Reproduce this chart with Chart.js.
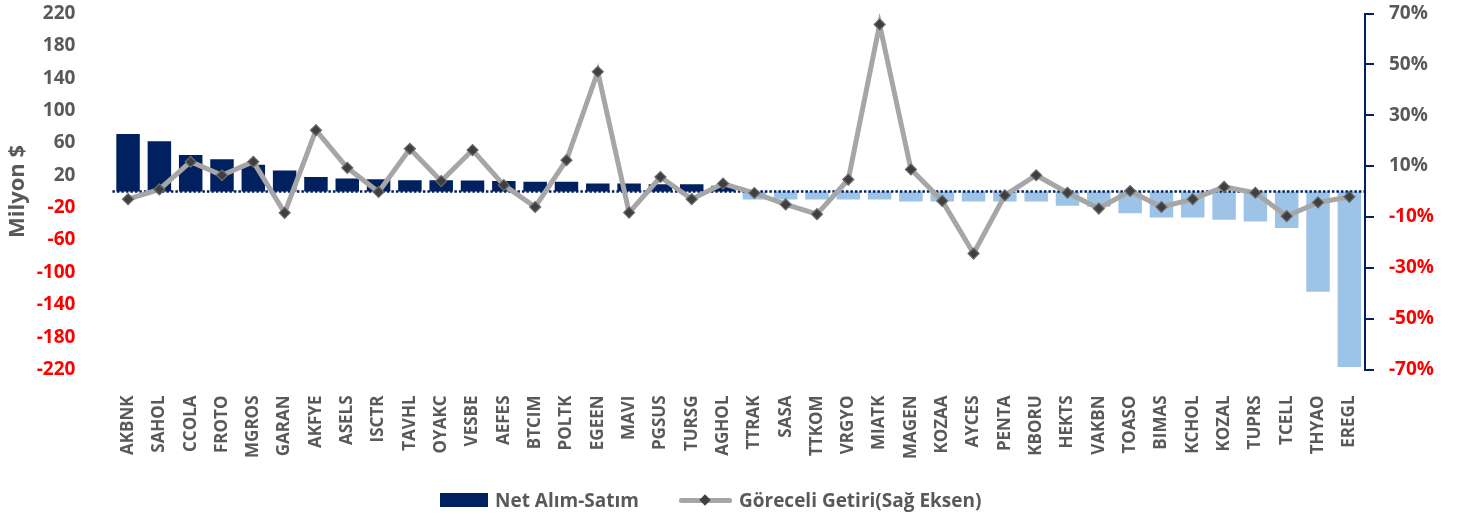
<!DOCTYPE html>
<html lang="tr">
<head>
<meta charset="utf-8">
<title>Net Alım-Satım ve Göreceli Getiri</title>
<script src="https://cdn.jsdelivr.net/npm/chart.js@4.4.1/dist/chart.umd.min.js"></script>
<style>
  body { margin: 0; background: #fff; }
  #wrap { position: relative; width: 1463px; height: 520px; }
  #legend {
    position: absolute; left: 440px; top: 490px;
    display: flex; align-items: center;
    font: bold 19px 'Open Sans', sans-serif; color: #595959;
    line-height: 20px; white-space: nowrap;
  }
  .sw-bar { width: 48px; height: 14px; background: #002060; margin-right: 7px; }
  .sw-line { position: relative; width: 53px; height: 14px; margin-left: 40px; margin-right: 7px; }
  .sw-line .ln { position: absolute; left: 0; right: 0; top: 4.5px; height: 5px; background: #a6a6a6; border-radius: 2px; }
  .sw-line .dm { position: absolute; left: 22px; top: 2.5px; width: 8px; height: 8px; background: #3f3f3f; transform: rotate(45deg); }
</style>
</head>
<body>
<div id="wrap">
  <canvas id="canvas"></canvas>
  <div id="legend">
    <span class="sw-bar"></span><span>Net Alım-Satım</span>
    <span class="sw-line"><span class="ln"></span><span class="dm"></span></span><span>Göreceli Getiri(Sağ Eksen)</span>
  </div>
</div>
<script>
// hisse kodlari
const tickers = ['AKBNK', 'SAHOL', 'CCOLA', 'FROTO', 'MGROS', 'GARAN', 'AKFYE', 'ASELS', 'ISCTR', 'TAVHL',
  'OYAKC', 'VESBE', 'AEFES', 'BTCIM', 'POLTK', 'EGEEN', 'MAVI', 'PGSUS', 'TURSG', 'AGHOL',
  'TTRAK', 'SASA', 'TTKOM', 'VRGYO', 'MIATK', 'MAGEN', 'KOZAA', 'AYCES', 'PENTA', 'KBORU',
  'HEKTS', 'VAKBN', 'TOASO', 'BIMAS', 'KCHOL', 'KOZAL', 'TUPRS', 'TCELL', 'THYAO', 'EREGL'];

// net alim-satim, milyon $
const netFlow = [71, 62, 45, 40, 33, 26, 18, 16, 15, 14,
  14, 13.5, 13, 12, 12, 10, 10, 9, 9, 7,
  -10, -10, -10, -10, -10, -12.5, -12.5, -12.5, -12.5, -12.5,
  -17.5, -19, -27, -32, -32, -35, -37, -45, -124, -217];

// goreceli getiri, %
const relReturn = [-3.0, 0.8, 11.7, 6.4, 11.7, -8.4, 24.1, 9.3, -0.2, 16.8,
  4.1, 16.3, 2.5, -6.1, 12.3, 47.1, -8.3, 5.7, -3.0, 3.1,
  -0.6, -5.1, -8.9, 4.7, 65.7, 8.7, -3.7, -24.4, -1.5, 6.4,
  -0.5, -6.7, 0.2, -6.1, -3.0, 1.8, -0.5, -9.7, -4.3, -2.1];

// eksen sinirlari
const leftAxis = { min: -220, max: 220, step: 40 };
const rightAxis = { min: -70, max: 70, step: 20 };

const NAVY = '#002060';
const LIGHT = '#9dc3e6';
const GRAY = '#595959';
const RED = '#ff0000';

Chart.defaults.font.family = "'Open Sans', sans-serif";
Chart.defaults.font.weight = 'bold';

// sifir cizgisi, barlardan sonra cizilir
const zeroLine = {
  id: 'zeroLine',
  afterDatasetDraw(chart, args) {
    if (args.index !== 0) return;
    const ctx = chart.ctx;
    const area = chart.chartArea;
    const y = chart.scales.y.getPixelForValue(0);
    ctx.save();
    ctx.strokeStyle = NAVY;
    ctx.lineWidth = 2.5;
    ctx.setLineDash([2.5, 2]);
    ctx.beginPath();
    ctx.moveTo(area.left, y);
    ctx.lineTo(area.right, y);
    ctx.stroke();
    ctx.restore();
  }
};

const signColor = (c) => c.tick.value < 0 ? RED : GRAY;

// etiket taşmasi icin eklenen bosluklari kaldir
function fixSize(w, h) {
  return (s) => {
    if (w) s.width = w;
    if (h) s.height = h;
    s.paddingTop = 0;
    s.paddingBottom = 0;
    s.paddingLeft = 0;
    s.paddingRight = 0;
  };
}

const ctx = document.getElementById('canvas').getContext('2d');
window.myChart = new Chart(ctx, {
  type: 'bar',
  data: {
    labels: tickers,
    datasets: [
      {
        label: 'Net Alım-Satım',
        data: netFlow,
        yAxisID: 'y',
        order: 1,
        backgroundColor: (c) => c.raw < 0 ? LIGHT : NAVY,
        categoryPercentage: 1,
        barPercentage: 0.75
      },
      {
        type: 'line',
        label: 'Göreceli Getiri(Sağ Eksen)',
        data: relReturn,
        yAxisID: 'y1',
        order: 0,
        borderColor: '#a6a6a6',
        borderWidth: 5,
        tension: 0,
        pointStyle: 'rectRot',
        pointRadius: 5.5,
        pointBackgroundColor: '#3f3f3f',
        pointBorderColor: '#6b6b6b',
        pointBorderWidth: 1.2
      }
    ]
  },
  options: {
    responsive: true,
    maintainAspectRatio: false,
    animation: false,
    layout: { padding: { top: 13.5, left: 0, right: 0, bottom: 0 } },
    plugins: {
      legend: { display: false },
      tooltip: { enabled: false }
    },
    scales: {
      x: {
        grid: { display: false },
        border: { display: false },
        ticks: {
          autoSkip: false,
          minRotation: 90,
          maxRotation: 90,
          padding: 18,
          color: GRAY,
          font: { size: 17, weight: 'bold' }
        },
        afterFit: fixSize(0, 150.5)
      },
      y: {
        position: 'left',
        min: leftAxis.min,
        max: leftAxis.max,
        grid: { display: false },
        border: { display: false },
        ticks: {
          stepSize: leftAxis.step,
          padding: 29,
          color: signColor,
          font: { size: 19, weight: 'bold' }
        },
        title: {
          display: true,
          text: 'Milyon $',
          color: GRAY,
          padding: { top: 5, bottom: 0 },
          font: { size: 22, weight: 'bold' }
        },
        afterFit: fixSize(112.4, 0)
      },
      y1: {
        position: 'right',
        min: rightAxis.min,
        max: rightAxis.max,
        grid: { drawOnChartArea: false, drawTicks: true, tickLength: 9, color: NAVY, lineWidth: 2 },
        border: { display: true, color: NAVY, width: 2 },
        ticks: {
          stepSize: rightAxis.step,
          padding: 15,
          color: signColor,
          callback: (v) => v + '%',
          font: { size: 19, weight: 'bold' }
        },
        afterFit: fixSize(98, 0)
      }
    }
  },
  plugins: [zeroLine]
});
</script>
</body>
</html>
